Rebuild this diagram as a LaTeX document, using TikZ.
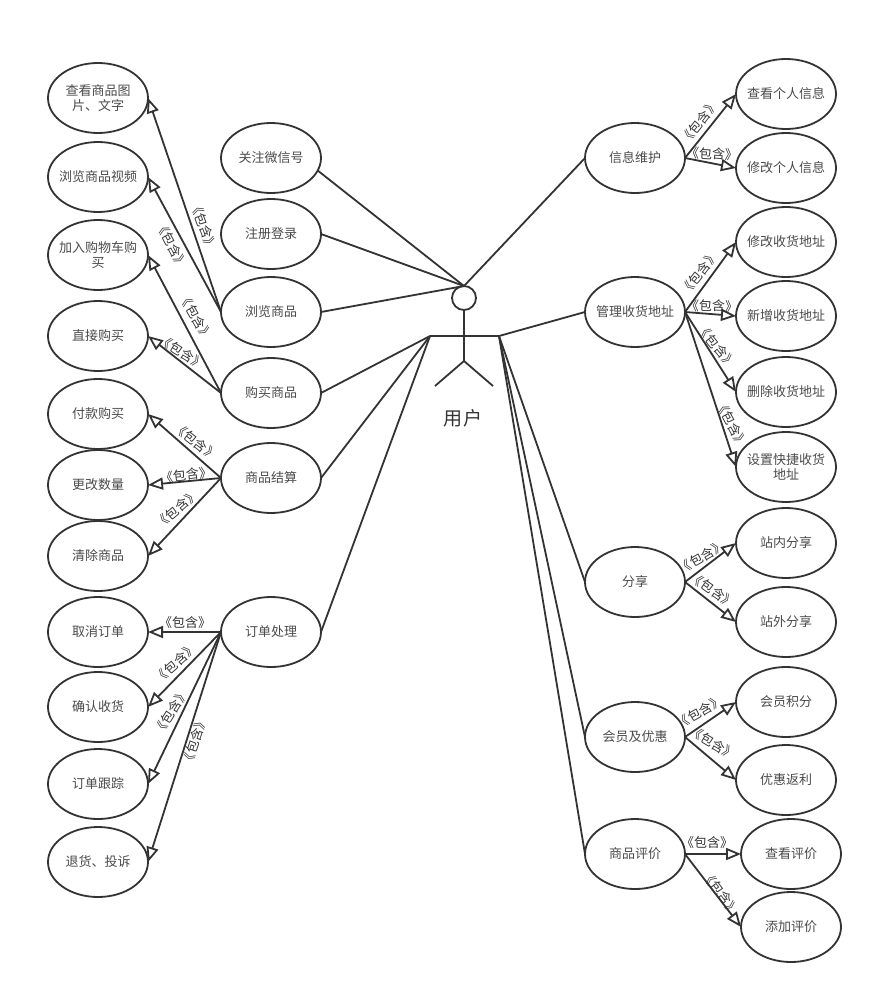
\documentclass[tikz,border=0pt]{standalone}
\usepackage{fontspec}
\setmainfont{Noto Sans CJK SC}
\usetikzlibrary{shapes.geometric,arrows.meta}
\definecolor{ink}{HTML}{333333}
\definecolor{txt}{HTML}{4A4A4A}
\tikzset{
  uc/.style={ellipse,draw=ink,line width=1.8pt,minimum width=100pt,minimum height=70pt,inner sep=-25pt,outer sep=0pt,
    align=center,text=txt,font=\fontsize{13pt}{15.5pt}\selectfont},
  link/.style={draw=ink,line width=1.8pt},
  inc/.style={draw=ink,line width=1.8pt,-{Triangle[open,length=15pt,width=12pt,line width=1.8pt]}},
  tag/.style={text=ink,inner sep=0pt,font=\fontsize{13pt}{14pt}\selectfont},
  actorname/.style={text=ink,inner sep=0pt,font=\fontsize{19pt}{20pt}\selectfont}
}
\begin{document}
\begin{tikzpicture}[x=1pt,y=-1pt]
\useasboundingbox (0,0) rectangle (873,998);
% left column
\node[uc] (l1) at (98,98) {查看商品图\\片、文字};
\node[uc] (l2) at (98,177) {浏览商品视频};
\node[uc] (l3) at (98,255) {加入购物车购\\买};
\node[uc] (l4) at (98,336) {直接购买};
\node[uc] (l5) at (98,414) {付款购买};
\node[uc] (l6) at (98,485) {更改数量};
\node[uc] (l7) at (98,556) {清除商品};
\node[uc] (l8) at (98,632) {取消订单};
\node[uc] (l9) at (98,707) {确认收货};
\node[uc] (l10) at (98,784) {订单跟踪};
\node[uc] (l11) at (98,862) {退货、投诉};
% middle left
\node[uc] (m1) at (271,158) {关注微信号};
\node[uc] (m2) at (271,234) {注册登录};
\node[uc] (m3) at (271,312) {浏览商品};
\node[uc] (m4) at (271,393) {购买商品};
\node[uc] (m5) at (271,478) {商品结算};
\node[uc] (m6) at (271,632) {订单处理};
% middle right
\node[uc] (n1) at (635,158) {信息维护};
\node[uc] (n2) at (635,312) {管理收货地址};
\node[uc] (n3) at (635,582) {分享};
\node[uc] (n4) at (635,737) {会员及优惠};
\node[uc] (n5) at (635,854) {商品评价};
% right column
\node[uc] (r1) at (786,94) {查看个人信息};
\node[uc] (r2) at (786,168) {修改个人信息};
\node[uc] (r3) at (786,242) {修改收货地址};
\node[uc] (r4) at (786,316) {新增收货地址};
\node[uc] (r5) at (786,392) {删除收货地址};
\node[uc] (r6) at (786,467) {设置快捷收货\\地址};
\node[uc] (r7) at (786,543) {站内分享};
\node[uc] (r8) at (786,622) {站外分享};
\node[uc] (r9) at (786,702) {会员积分};
\node[uc] (r10) at (786,780) {优惠返利};
\node[uc] (r11) at (791,854) {查看评价};
\node[uc] (r12) at (791,927) {添加评价};
% actor
\node[circle,draw=ink,line width=1.8pt,minimum size=24pt,inner sep=0pt,outer sep=0pt] (head) at (464,298) {};
\coordinate (hub) at (464,286);
\coordinate (armL) at (430,336);
\coordinate (armR) at (499,336);
\coordinate (hip) at (464,361);
\coordinate (legL) at (435,386);
\coordinate (legR) at (493,386);
\draw[link] (head.south) -- (hip);
\draw[link] (armL) -- (armR);
\draw[link] (legL) -- (hip) -- (legR);
\node[actorname] (actor) at (463,418) {用\hspace{1.5pt}户};
% associations
\draw[link] (m1.-15) -- (hub);
\draw[link] (m2.east) -- (hub);
\draw[link] (m3.east) -- (hub);
\draw[link] (m4.east) -- (armL);
\draw[link] (m5.east) -- (armL);
\draw[link] (m6.east) -- (armL);
\draw[link] (n1.west) -- (hub);
\draw[link] (n2.west) -- (armR);
\draw[link] (n3.west) -- (armR);
\draw[link] (n4.west) -- (armR);
\draw[link] (n5.west) -- (armR);
% includes
\draw[inc] (m3.west) -- (l1.east);
\draw[inc] (m3.west) -- (l2.east);
\draw[inc] (m4.west) -- (l3.east);
\draw[inc] (m4.west) -- (l4.east);
\draw[inc] (m5.west) -- (l5.east);
\draw[inc] (m5.west) -- (l6.east);
\draw[inc] (m5.west) -- (l7.east);
\draw[inc] (m6.west) -- (l8.east);
\draw[inc] (m6.west) -- (l9.east);
\draw[inc] (m6.west) -- (l10.east);
\draw[inc] (m6.west) -- (l11.east);
\draw[inc] (n1.east) -- (r1.west);
\draw[inc] (n1.east) -- (r2.west);
\draw[inc] (n2.east) -- (r3.west);
\draw[inc] (n2.east) -- (r4.west);
\draw[inc] (n2.east) -- (r5.west);
\draw[inc] (n2.east) -- (r6.west);
\draw[inc] (n3.east) -- (r7.west);
\draw[inc] (n3.east) -- (r8.west);
\draw[inc] (n4.east) -- (r9.west);
\draw[inc] (n4.east) -- (r10.west);
\draw[inc] (n5.east) -- (r11.west);
\draw[inc] (n5.east) -- (r12.west);
% tags
\node[tag,rotate=-70] (t1) at (204,226) {《包含》};
\node[tag,rotate=-62] (t2) at (172,245) {《包含》};
\node[tag,rotate=-60] (t3) at (196,317) {《包含》};
\node[tag,rotate=-32] (t4) at (182,352) {《包含》};
\node[tag,rotate=-38] (t5) at (196,442) {《包含》};
\node[tag,rotate=7] (t6) at (186,475) {《包含》};
\node[tag,rotate=41] (t7) at (177,509) {《包含》};
\node[tag] (t8) at (185,623) {《包含》};
\node[tag,rotate=42] (t9) at (176,663) {《包含》};
\node[tag,rotate=58] (t10) at (171,712) {《包含》};
\node[tag,rotate=72] (t11) at (195,741) {《包含》};
\node[tag,rotate=52] (t12) at (700,122) {《包含》};
\node[tag,rotate=-3] (t13) at (712,154) {《包含》};
\node[tag,rotate=52] (t14) at (700,273) {《包含》};
\node[tag,rotate=-2] (t15) at (712,306) {《包含》};
\node[tag,rotate=-51] (t16) at (717,346) {《包含》};
\node[tag,rotate=-62] (t17) at (732,424) {《包含》};
\node[tag,rotate=30] (t18) at (702,557) {《包含》};
\node[tag,rotate=-35] (t19) at (713,590) {《包含》};
\node[tag,rotate=30] (t20) at (700,712) {《包含》};
\node[tag,rotate=-31] (t21) at (713,743) {《包含》};
\node[tag] (t22) at (707,843) {《包含》};
\node[tag,rotate=-53] (t23) at (721,893) {《包含》};
\end{tikzpicture}
\end{document}
